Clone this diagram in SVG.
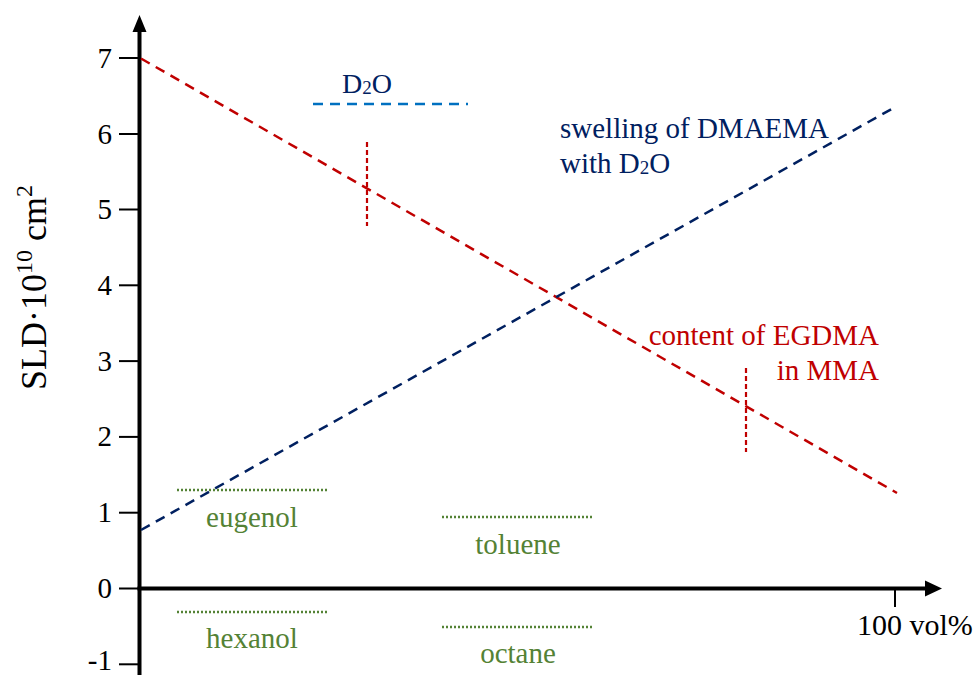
<svg xmlns="http://www.w3.org/2000/svg" width="979" height="675" viewBox="0 0 979 675" font-family="'Liberation Serif', 'DejaVu Serif', serif">
<style>
text{font-family:'Liberation Serif','DejaVu Serif',serif;}
.tk{font-size:29px;fill:#000;text-anchor:end;}
.ax{stroke:#000;stroke-width:4;fill:none;}
.tick{stroke:#000;stroke-width:2;}
.red{stroke:#c00000;stroke-width:2.5;stroke-dasharray:10 7;fill:none;}
.redv{stroke:#c00000;stroke-width:2.2;stroke-dasharray:5 3;fill:none;}
.navy{stroke:#002060;stroke-width:2.5;stroke-dasharray:10 7;fill:none;}
.lblue{stroke:#0070c0;stroke-width:2.5;stroke-dasharray:10 7;fill:none;}
.green{stroke:#548235;stroke-width:2.5;stroke-dasharray:2 2;fill:none;}
.gt{font-size:29px;fill:#548235;text-anchor:middle;}
.rt{font-size:29px;fill:#c00000;text-anchor:end;}
.bt{font-size:29px;fill:#002060;}
</style>
<rect width="979" height="675" fill="#fff"/>
<g id="axes">
<line class="ax" x1="139.5" y1="28" x2="139.5" y2="675"/>
<polygon points="139.5,15 132.5,32 146.5,32" fill="#000"/>
<line class="ax" x1="137.5" y1="588.5" x2="928" y2="588.5"/>
<polygon points="942,588.5 925,580.5 925,596.5" fill="#000"/>
<line class="tick" x1="119" y1="58" x2="140" y2="58"/>
<line class="tick" x1="119" y1="134" x2="140" y2="134"/>
<line class="tick" x1="119" y1="209.5" x2="140" y2="209.5"/>
<line class="tick" x1="119" y1="285.3" x2="140" y2="285.3"/>
<line class="tick" x1="119" y1="361.1" x2="140" y2="361.1"/>
<line class="tick" x1="119" y1="436.9" x2="140" y2="436.9"/>
<line class="tick" x1="119" y1="512.7" x2="140" y2="512.7"/>
<line class="tick" x1="119" y1="588.5" x2="140" y2="588.5"/>
<line class="tick" x1="119" y1="664.3" x2="140" y2="664.3"/>
<line class="tick" x1="895" y1="588" x2="895" y2="607"/>
<text class="tk" x="112" y="68">7</text>
<text class="tk" x="112" y="144">6</text>
<text class="tk" x="112" y="219">5</text>
<text class="tk" x="112" y="295">4</text>
<text class="tk" x="112" y="371">3</text>
<text class="tk" x="112" y="446">2</text>
<text class="tk" x="112" y="522">1</text>
<text class="tk" x="112" y="598">0</text>
<text class="tk" x="112" y="670">-1</text>
<text x="857" y="635" style="font-size:30px;fill:#000">100 vol%</text>
<text transform="translate(46,390) rotate(-90)" style="font-size:36px;fill:#000">SLD·10<tspan dy="-14" style="font-size:24px">10</tspan><tspan dy="14"> cm</tspan><tspan dy="-14" style="font-size:24px">2</tspan></text>
</g>
<g id="connectors">
<line class="red" x1="141" y1="58.5" x2="897" y2="493"/>
<line class="navy" x1="141" y1="530" x2="897" y2="106"/>
<line class="redv" x1="367" y1="142" x2="367" y2="226"/>
<line class="redv" x1="746" y1="368" x2="746" y2="452"/>
<line class="lblue" x1="313" y1="104" x2="468" y2="104"/>
<line class="green" x1="177" y1="490" x2="328" y2="490"/>
<line class="green" x1="177" y1="612" x2="328" y2="612"/>
<line class="green" x1="442" y1="517" x2="593" y2="517"/>
<line class="green" x1="442" y1="627" x2="593" y2="627"/>
</g>
<g id="label-d2o"><text x="342" y="93" style="font-size:28px;fill:#002060">D<tspan dy="1" style="font-size:19px">2</tspan><tspan dy="-1">O</tspan></text></g>
<g id="label-swelling"><text class="bt" x="560" y="138">swelling of DMAEMA</text><text class="bt" x="560" y="173">with D<tspan dy="1" style="font-size:19px">2</tspan><tspan dy="-1">O</tspan></text></g>
<g id="label-egdma"><text class="rt" x="879" y="345">content of EGDMA</text><text class="rt" x="879" y="380">in MMA</text></g>
<g id="label-eugenol"><text class="gt" x="252" y="527">eugenol</text></g>
<g id="label-hexanol"><text class="gt" x="252" y="648">hexanol</text></g>
<g id="label-toluene"><text class="gt" x="518" y="554">toluene</text></g>
<g id="label-octane"><text class="gt" x="518" y="663">octane</text></g>
</svg>
